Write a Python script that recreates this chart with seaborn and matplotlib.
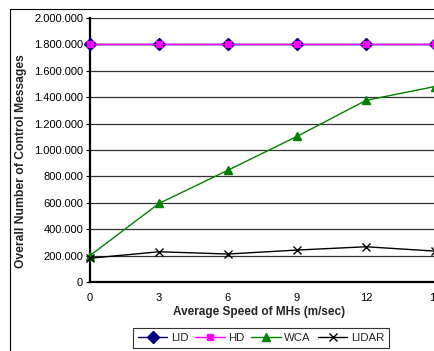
import matplotlib
matplotlib.use("Agg")
import matplotlib.pyplot as plt
import seaborn as sns
import pandas as pd
from matplotlib.ticker import FuncFormatter
from matplotlib.lines import Line2D

speeds = [0, 3, 6, 9, 12, 15]
lid = [1800000, 1800000, 1800000, 1800000, 1800000, 1800000]
hd = [1800000, 1800000, 1800000, 1800000, 1800000, 1800000]
wca = [200000, 595000, 847000, 1103000, 1376000, 1481000]
lidar = [180000, 229000, 212000, 242000, 267000, 234000]

sns.set_style("white")
plt.rcParams['font.family'] = ['Liberation Sans', 'DejaVu Sans']

fig = plt.figure(figsize=(4.35, 3.51), dpi=100)
ax = fig.add_axes([90/435, 1-282/351, 1-90/435, (282-18)/351])

series = [
    ("LID", lid, "#000080", "D", 6.5, "#000080"),
    ("HD", hd, "#FF00FF", "s", 4.5, "#FF00FF"),
    ("WCA", wca, "#008000", "^", 5.5, "#008000"),
    ("LIDAR", lidar, "#000000", "x", 5.5, "#000000"),
]
for name, vals, col, mk, ms, ec in series:
    df = pd.DataFrame({"x": speeds, "y": vals})
    sns.lineplot(data=df, x="x", y="y", ax=ax, color=col, marker=mk, markersize=ms,
                 linewidth=1.0, label=name, markeredgecolor=ec,
                 markeredgewidth=1.0, clip_on=False, zorder=3)

ax.set_xlim(0, 15)
ax.set_ylim(0, 2000000)
ax.set_xticks(speeds)
ax.set_yticks(range(0, 2000001, 200000))
ax.yaxis.set_major_formatter(FuncFormatter(lambda v, p: "0" if v == 0 else f"{int(v):,}".replace(",", ".")))
ax.tick_params(axis="both", labelsize=8, colors="black", length=3, width=0.8)
ax.tick_params(axis="x", length=0, pad=8)
ax.tick_params(axis="y", left=True, direction="out", pad=2)
ax.grid(axis="y", color="#333333", linewidth=0.9)
ax.grid(axis="x", visible=False)
for s in ["top", "right"]:
    ax.spines[s].set_visible(False)
for s in ["left", "bottom"]:
    ax.spines[s].set_linewidth(1.6)
    ax.spines[s].set_color("black")

ax.set_xlabel("Average Speed of MHs (m/sec)", fontsize=8.5, fontweight="bold", labelpad=3)
ax.xaxis.set_label_coords(259/435, 1-312/351, transform=fig.transFigure)
ax.set_ylabel("Overall Number of Control Messages", fontsize=8.7, fontweight="bold")
ax.yaxis.set_label_coords(21/435, 1-161/351, transform=fig.transFigure)
ax.yaxis.label.set_va("center")
ax.xaxis.label.set_va("center")

leg = ax.legend(loc="center", bbox_to_anchor=(261/435, 1-338/351), bbox_transform=fig.transFigure,
                ncol=4, fontsize=8.2, frameon=True, fancybox=False, edgecolor="black",
                handlelength=2.6, handletextpad=0.3, columnspacing=0.6, borderpad=0.45)
leg.get_frame().set_linewidth(0.8)

fig.add_artist(Line2D([10/435, 10/435], [0, 1-9/351], transform=fig.transFigure, color="black", linewidth=0.8))
fig.add_artist(Line2D([10/435, 1], [1-9/351, 1-9/351], transform=fig.transFigure, color="black", linewidth=0.8))

fig.savefig("out.png", dpi=100)
